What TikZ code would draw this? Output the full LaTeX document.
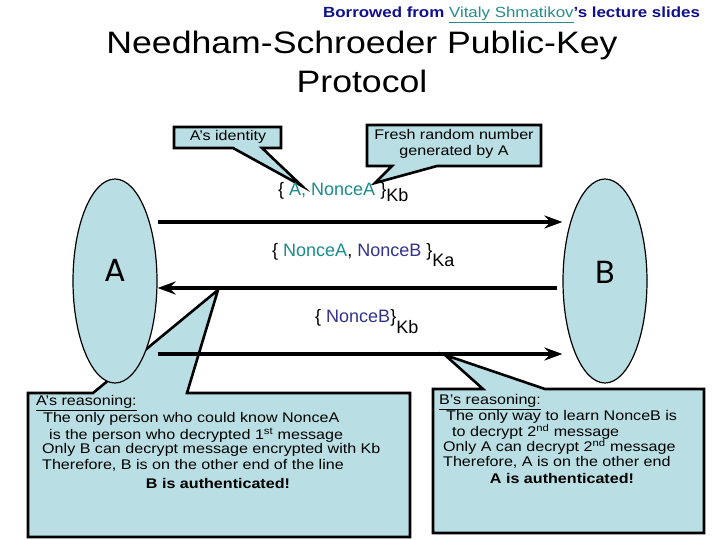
\documentclass[tikz,border=0pt]{standalone}
\usepackage{fontspec}
\setmainfont{Liberation Sans}
\newfontfamily\widefont[FakeStretch=1.15]{Liberation Sans}
\newfontfamily\labelfont{Poppins}
\usetikzlibrary{arrows.meta,shapes.geometric}
\definecolor{calloutfill}{RGB}{185,223,228}
\definecolor{tealtext}{RGB}{26,140,140}
\definecolor{noncebcol}{RGB}{51,51,140}
\definecolor{navytext}{RGB}{16,16,140}
\definecolor{linkteal}{RGB}{40,140,140}
\tikzset{
  callout/.style={fill=calloutfill, draw=black, line width=2.6pt, line join=miter},
  party/.style={draw=black, fill=calloutfill, ellipse, line width=1.2pt, minimum width=84pt, minimum height=204pt, inner sep=0pt},
  partylabel/.style={font=\labelfont\fontsize{32}{32}\selectfont, inner sep=0pt},
  msgarrow/.style={line width=4pt, -{Stealth[length=18pt,width=13pt,inset=6pt]}},
  msgtext/.style={font=\fontsize{18}{20}\selectfont, inner sep=0pt, anchor=base west},
  bodytext/.style={font=\widefont\fontsize{14}{15.5}\selectfont, inner sep=0pt},
  bodyline/.style={bodytext, anchor=west},
}
\begin{document}
\begin{tikzpicture}[x=1pt,y=-1pt]
\useasboundingbox (0,0) rectangle (720,540);
\fill[white] (0,0) rectangle (720,540);

% header and title
\node[anchor=west, inner sep=0pt, font=\widefont\bfseries\fontsize{14.7}{16}\selectfont, text=navytext] (hdr) at (323,15)
  {Borrowed from \textcolor{linkteal}{\mdseries\underline{Vitaly Shmatikov}}’s lecture slides};
\node[anchor=base, inner sep=0pt, font=\widefont\fontsize{31}{36}\selectfont] (title1) at (362,54) {Needham-Schroeder Public-Key};
\node[anchor=base, inner sep=0pt, font=\widefont\fontsize{31}{36}\selectfont] (title2) at (362,93) {Protocol};

% small callouts
\draw[callout] (174,127) -- (281,127) -- (281,148) -- (262,148) -- (302,186) -- (233,148) -- (174,148) -- cycle;
\node[bodytext] (aid) at (228,137) {A’s identity};
\draw[callout] (367,125) -- (541,125) -- (541,166) -- (437,166) -- (375,183) -- (392,166) -- (367,166) -- cycle;
\node[bodytext, align=center] (fresh) at (454,144) {Fresh random number\\generated by A};

% reasoning callouts
\draw[callout] (28,393) -- (93,393) -- (218,290) -- (187,393) -- (410,393) -- (410,537) -- (28,537) -- cycle;
\draw[callout] (433,389) -- (483,389) -- (445,355) -- (545,389) -- (704,389) -- (704,533) -- (433,533) -- cycle;

% parties
\node[party] (A) at (115,281) {};
\node[party] (B) at (605,281) {};
\node[partylabel] (Alab) at (115,270) {A};
\node[partylabel] (Blab) at (605,272) {B};

% message levels
\coordinate (y1) at (0,222);
\coordinate (y2) at (0,288);
\coordinate (y3) at (0,354);
\draw[msgarrow] (A.east |- y1) -- (B.west |- y1);
\draw[msgarrow, shorten <=5pt] (B.west |- y2) -- (A.east |- y2);
\draw[msgarrow] (A.east |- y3) -- (B.west |- y3);

% messages
\node[msgtext] (m1) at (278,196) {\{ \textcolor{tealtext}{A, NonceA} \}\raisebox{-6pt}{Kb}};
\node[msgtext] (m2) at (272,256) {\{ \textcolor{tealtext}{NonceA}, \textcolor{noncebcol}{NonceB} \}\raisebox{-10pt}{Ka}};
\node[msgtext] (m3) at (315,322) {\{ \textcolor{noncebcol}{NonceB}\}\raisebox{-11pt}{Kb}};

% A's reasoning
\node[bodyline] (ar1) at (36,403) {\underline{A’s reasoning:}};
\node[bodyline] (ar2) at (43,419) {The only person who could know NonceA};
\node[bodyline] (ar3) at (49,435) {is the person who decrypted 1\textsuperscript{st} message};
\node[bodyline] (ar4) at (42,450) {Only B can decrypt message encrypted with Kb};
\node[bodyline] (ar5) at (42,465) {Therefore, B is on the other end of the line};
\node[bodytext, font=\widefont\bfseries\fontsize{14}{15.5}\selectfont] (ar6) at (218,483) {B is authenticated!};

% B's reasoning
\node[bodyline] (br1) at (439,402) {\underline{B’s reasoning:}};
\node[bodyline] (br2) at (446,417) {The only way to learn NonceB is};
\node[bodyline] (br3) at (452,432) {to decrypt 2\textsuperscript{nd} message};
\node[bodyline] (br4) at (443,447) {Only A can decrypt 2\textsuperscript{nd} message};
\node[bodyline] (br5) at (443,462) {Therefore, A is on the other end};
\node[bodytext, font=\widefont\bfseries\fontsize{14}{15.5}\selectfont] (br6) at (562,478) {A is authenticated!};
\end{tikzpicture}
\end{document}
